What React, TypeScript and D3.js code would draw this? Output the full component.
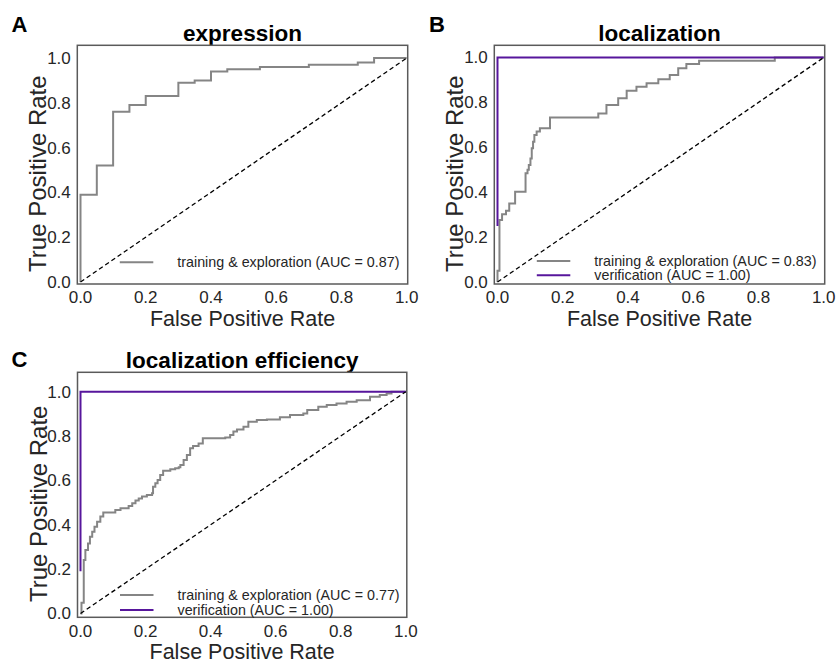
import React from "react";
import * as d3 from "d3";

// ROC vertices: at each fpr the curve climbs to the listed tpr (step-after).
const exprTrainFpr = [0, 0, 0.05, 0.10, 0.15, 0.20, 0.30, 0.35, 0.40, 0.45, 0.55, 0.70, 0.85, 0.90, 1.0];
const exprTrainTpr = [0, 0.39, 0.52, 0.76, 0.79, 0.83, 0.89, 0.90, 0.94, 0.95, 0.96, 0.97, 0.98, 1.0, 1.0];

const locTrainFpr = [0, 0, 0.006, 0.014, 0.026, 0.036, 0.054, 0.086, 0.092, 0.096, 0.101, 0.105, 0.109, 0.113, 0.120, 0.130, 0.161, 0.309, 0.334, 0.370, 0.396, 0.426, 0.457, 0.493, 0.528, 0.554, 0.579, 0.618, 0.850, 1.0];
const locTrainTpr = [0, 0.05, 0.276, 0.302, 0.317, 0.35, 0.402, 0.484, 0.50, 0.521, 0.55, 0.596, 0.625, 0.655, 0.670, 0.685, 0.733, 0.751, 0.788, 0.818, 0.852, 0.870, 0.885, 0.903, 0.922, 0.952, 0.971, 0.986, 1.0, 1.0];
const locVerifFpr = [0, 0, 1.0];
const locVerifTpr = [0.25, 1.0, 1.0];

const effTrainFpr = [0, 0.003, 0.010, 0.015, 0.023, 0.029, 0.036, 0.043, 0.051, 0.061, 0.070, 0.107, 0.123, 0.148, 0.159, 0.169, 0.179, 0.189, 0.204, 0.220, 0.223, 0.230, 0.237, 0.245, 0.254, 0.276, 0.291, 0.302, 0.307, 0.317, 0.327, 0.337, 0.346, 0.363, 0.376, 0.445, 0.460, 0.470, 0.481, 0.501, 0.516, 0.542, 0.573, 0.613, 0.644, 0.685, 0.697, 0.731, 0.757, 0.787, 0.818, 0.849, 0.890, 0.920, 0.941, 0.956, 1.0];
const effTrainTpr = [0, 0.049, 0.241, 0.286, 0.316, 0.346, 0.369, 0.391, 0.414, 0.437, 0.455, 0.467, 0.474, 0.485, 0.497, 0.509, 0.519, 0.527, 0.534, 0.542, 0.572, 0.587, 0.602, 0.624, 0.644, 0.650, 0.655, 0.659, 0.670, 0.692, 0.715, 0.745, 0.755, 0.767, 0.790, 0.794, 0.805, 0.820, 0.830, 0.842, 0.865, 0.872, 0.875, 0.885, 0.895, 0.902, 0.917, 0.932, 0.940, 0.947, 0.955, 0.962, 0.977, 0.985, 0.992, 1.0, 1.0];
const effVerifFpr = [0, 0, 1.0];
const effVerifTpr = [0.19, 1.0, 1.0];

const tickValues = [0, 0.2, 0.4, 0.6, 0.8, 1.0];
const trainLabels = ["training & exploration (AUC = 0.87)", "training & exploration (AUC = 0.83)", "training & exploration (AUC = 0.77)"];
const verifLabel = "verification (AUC = 1.00)";
const panelTitles = ["expression", "localization", "localization efficiency"];
const panelLetters = ["A", "B", "C"];

const FONT = "Liberation Sans, Arial, Helvetica, sans-serif";
const GRAY = "#858585";
const PURPLE = "#57169c";
const TEXT = "#262626";

type Series = { fpr: number[]; tpr: number[]; color: string; label: string };
type PanelProps = {
  id: string;
  letter: string;
  letterX: number;
  letterY: number;
  title: string;
  frame: { l: number; t: number; r: number; b: number };
  xr: [number, number];
  yr: [number, number];
  series: Series[];
  legendRows: number[];
};

function Panel(p: PanelProps) {
  const x = d3.scaleLinear().domain([0, 1]).range(p.xr);
  const y = d3.scaleLinear().domain([0, 1]).range(p.yr);
  const stepLine = d3
    .line<[number, number]>()
    .x((d) => x(d[0]))
    .y((d) => y(d[1]))
    .curve(d3.curveStepAfter);
  const straight = d3
    .line<[number, number]>()
    .x((d) => x(d[0]))
    .y((d) => y(d[1]));
  const { l, t, r, b } = p.frame;
  const cx = (l + r) / 2;
  const cy = (t + b) / 2 + 9;
  const legendX = l + 100;
  return (
    <g>
      <defs>
        <clipPath id={p.id}>
          <rect x={l} y={t} width={r - l} height={b - t} />
        </clipPath>
      </defs>
      <text x={p.letterX} y={p.letterY} fontFamily={FONT} fontWeight="bold" fontSize={22} fill="#000">
        {p.letter}
      </text>
      <text x={cx} y={t - 4} textAnchor="middle" fontFamily={FONT} fontWeight="bold" fontSize={22.5} fill="#000">
        {p.title}
      </text>
      <g clipPath={`url(#${p.id})`}>
        {p.series.map((s, i) => (
          <path
            key={i}
            d={stepLine(s.fpr.map((f, k) => [f, s.tpr[k]] as [number, number])) || ""}
            fill="none"
            stroke={s.color}
            strokeWidth={2}
          />
        ))}
        <path
          d={straight([[0, 0], [1, 1]]) || ""}
          fill="none"
          stroke="#000"
          strokeWidth={1.3}
          strokeDasharray="4.5,3"
        />
      </g>
      <rect x={l} y={t} width={r - l} height={b - t} fill="none" stroke="#5a5a5a" strokeWidth={1.5} />
      {tickValues.map((v) => (
        <text key={"y" + v} x={l - 6.5} y={y(v)} dy="0.35em" textAnchor="end" fontFamily={FONT} fontSize={17} fill={TEXT}>
          {v.toFixed(1)}
        </text>
      ))}
      {tickValues.map((v) => (
        <text key={"x" + v} x={x(v)} y={b + 19.3} textAnchor="middle" fontFamily={FONT} fontSize={17} fill={TEXT}>
          {v.toFixed(1)}
        </text>
      ))}
      <text x={cx} y={b + 41.5} textAnchor="middle" fontFamily={FONT} fontSize={21.5} fill={TEXT}>
        False Positive Rate
      </text>
      <text
        transform={`translate(${l - 31},${cy}) rotate(-90)`}
        textAnchor="middle"
        fontFamily={FONT}
        fontSize={24}
        fill={TEXT}
      >
        True Positive Rate
      </text>
      {p.series.map((s, i) => (
        <g key={"lg" + i}>
          <line x1={legendX - 57.5} x2={legendX - 24} y1={p.legendRows[i]} y2={p.legendRows[i]} stroke={s.color} strokeWidth={2} />
          <text x={legendX} y={p.legendRows[i]} dy="0.35em" fontFamily={FONT} fontSize={14.3} fill={TEXT}>
            {s.label}
          </text>
        </g>
      ))}
    </g>
  );
}

export default function App() {
  return (
    <svg
      width={839}
      height={662}
      style={{ position: "absolute", left: 0, top: 0, background: "#fff" }}
    >
      <rect width={839} height={662} fill="#fff" />
      <Panel
        id="clipA"
        letter={panelLetters[0]}
        letterX={11.5}
        letterY={32}
        title={panelTitles[0]}
        frame={{ l: 77.3, t: 45.3, r: 407.7, b: 284 }}
        xr={[80.5, 406.7]}
        yr={[282, 58]}
        series={[{ fpr: exprTrainFpr, tpr: exprTrainTpr, color: GRAY, label: trainLabels[0] }]}
        legendRows={[262.3]}
      />
      <Panel
        id="clipB"
        letter={panelLetters[1]}
        letterX={429}
        letterY={32}
        title={panelTitles[1]}
        frame={{ l: 494.3, t: 45.3, r: 824.7, b: 284 }}
        xr={[497.5, 823.7]}
        yr={[282, 57.5]}
        series={[
          { fpr: locTrainFpr, tpr: locTrainTpr, color: GRAY, label: trainLabels[1] },
          { fpr: locVerifFpr, tpr: locVerifTpr, color: PURPLE, label: verifLabel },
        ]}
        legendRows={[261, 275.3]}
      />
      <Panel
        id="clipC"
        letter={panelLetters[2]}
        letterX={11.5}
        letterY={367}
        title={panelTitles[2]}
        frame={{ l: 77.5, t: 372.3, r: 406.8, b: 617.3 }}
        xr={[80.5, 405.8]}
        yr={[613.5, 391.7]}
        series={[
          { fpr: effTrainFpr, tpr: effTrainTpr, color: GRAY, label: trainLabels[2] },
          { fpr: effVerifFpr, tpr: effVerifTpr, color: PURPLE, label: verifLabel },
        ]}
        legendRows={[595, 610]}
      />
    </svg>
  );
}
